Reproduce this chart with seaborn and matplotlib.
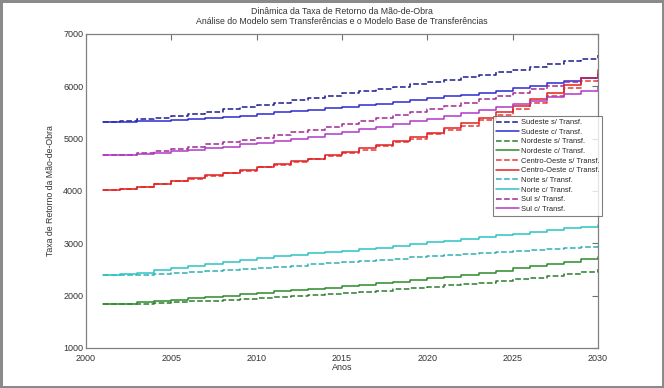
import numpy as np
import pandas as pd
import matplotlib
matplotlib.use('Agg')
import matplotlib.pyplot as plt
import seaborn as sns

# dados (valores anuais 2001-2030)
anos = list(range(2001, 2031))

sudeste_s = [5320, 5330, 5380, 5400, 5430, 5470, 5510, 5560, 5610, 5650, 5690, 5730, 5770, 5820, 5870,
             5910, 5950, 5990, 6040, 6080, 6130, 6170, 6220, 6270, 6320, 6370, 6420, 6480, 6530, 6590]
sudeste_c = [5320, 5320, 5330, 5340, 5360, 5380, 5400, 5420, 5440, 5470, 5500, 5520, 5550, 5580, 5610,
             5640, 5670, 5700, 5730, 5770, 5810, 5840, 5880, 5920, 5970, 6010, 6060, 6100, 6150, 6200]
nordeste_s = [1840, 1840, 1850, 1860, 1880, 1890, 1900, 1920, 1930, 1950, 1970, 1990, 2010, 2030, 2050,
              2070, 2090, 2120, 2140, 2170, 2200, 2220, 2250, 2280, 2310, 2340, 2380, 2420, 2460, 2500]
nordeste_c = [1840, 1850, 1870, 1890, 1920, 1950, 1980, 2000, 2030, 2060, 2080, 2100, 2130, 2150, 2180,
              2210, 2240, 2270, 2300, 2330, 2360, 2400, 2440, 2480, 2520, 2560, 2600, 2650, 2700, 2740]
centro_s = [4020, 4030, 4080, 4140, 4190, 4230, 4290, 4340, 4390, 4450, 4500, 4550, 4610, 4670, 4730,
            4790, 4860, 4930, 5000, 5080, 5160, 5250, 5350, 5450, 5560, 5690, 5820, 5960, 6100, 6250]
centro_c = [4020, 4030, 4080, 4140, 4200, 4240, 4300, 4350, 4400, 4460, 4510, 4570, 4620, 4690, 4750,
            4820, 4880, 4950, 5030, 5110, 5200, 5290, 5400, 5500, 5620, 5760, 5880, 6020, 6160, 6310]
norte_s = [2390, 2390, 2400, 2410, 2430, 2450, 2470, 2490, 2510, 2530, 2550, 2570, 2600, 2620, 2640,
           2660, 2680, 2710, 2730, 2750, 2770, 2790, 2810, 2830, 2850, 2870, 2890, 2910, 2930, 2950]
norte_c = [2390, 2410, 2440, 2490, 2530, 2570, 2610, 2650, 2690, 2720, 2750, 2780, 2810, 2830, 2860,
           2890, 2920, 2950, 2990, 3020, 3050, 3080, 3120, 3150, 3180, 3220, 3250, 3290, 3320, 3350]
sul_s = [4680, 4680, 4720, 4760, 4800, 4840, 4890, 4930, 4980, 5020, 5070, 5120, 5170, 5230, 5280,
         5340, 5390, 5450, 5510, 5570, 5630, 5690, 5750, 5810, 5880, 5950, 6010, 6080, 6160, 6230]
sul_c = [4680, 4680, 4710, 4730, 4760, 4790, 4820, 4850, 4890, 4920, 4960, 5000, 5040, 5090, 5130,
         5180, 5230, 5280, 5330, 5380, 5430, 5490, 5540, 5600, 5660, 5720, 5790, 5850, 5920, 5990]

series = [
    ('Sudeste s/ Transf.', sudeste_s, '#1c1c8e', '--'),
    ('Sudeste c/ Transf.', sudeste_c, '#2b2bd0', '-'),
    ('Nordeste s/ Transf.', nordeste_s, '#2e7a2e', '--'),
    ('Nordeste c/ Transf.', nordeste_c, '#2a8c2a', '-'),
    ('Centro-Oeste s/ Transf.', centro_s, '#e83838', '--'),
    ('Centro-Oeste c/ Transf.', centro_c, '#e02020', '-'),
    ('Norte s/ Transf.', norte_s, '#30b0b0', '--'),
    ('Norte c/ Transf.', norte_c, '#2cc4c4', '-'),
    ('Sul s/ Transf.', sul_s, '#a02890', '--'),
    ('Sul c/ Transf.', sul_c, '#b038c8', '-'),
]

sns.set_style('white')
plt.rcParams['font.family'] = ['Liberation Sans', 'DejaVu Sans']

fig = plt.figure(figsize=(6.64, 3.88), dpi=100, edgecolor='#8a8a8a', linewidth=2.5)
ax = fig.add_axes([0.1295, 0.1031, 0.7711, 0.8093])

for nome, vals, cor, estilo in series:
    sns.lineplot(x=anos, y=vals, ax=ax, color=cor, linestyle=estilo, linewidth=1.1,
                 label=nome, drawstyle='steps-post')

ax.set_xlim(2000, 2030)
ax.set_ylim(1000, 7000)
ax.set_xticks(range(2000, 2031, 5))
ax.set_yticks(range(1000, 7001, 1000))
ax.tick_params(direction='in', length=4, width=0.8, color='#707070', labelsize=6.5,
               top=True, right=True, labelcolor='#333333', pad=2)
ax.tick_params(axis='x', pad=4)
for s in ax.spines.values():
    s.set_color('#808080')
    s.set_linewidth(0.9)

ax.set_xlabel('Anos', fontsize=6.5, color='#333333', labelpad=0)
ax.set_ylabel('Taxa de Retorno da Mão-de-Obra', fontsize=6.3, color='#333333', labelpad=6)
ax.set_title('Dinâmica da Taxa de Retorno da Mão-de-Obra\n'
             'Análise do Modelo sem Transferências e o Modelo Base de Transferências',
             fontsize=6.3, color='#333333', pad=7, linespacing=1.2)

leg = ax.legend(loc='upper right', bbox_to_anchor=(1.008, 0.738), fontsize=5.4,
                handlelength=3.0, handletextpad=0.3, labelspacing=0.32, borderpad=0.35,
                borderaxespad=0, frameon=True, fancybox=False, edgecolor='#606060')
leg.get_frame().set_linewidth(0.8)

fig.savefig('out.png', dpi=100, edgecolor=fig.get_edgecolor())
